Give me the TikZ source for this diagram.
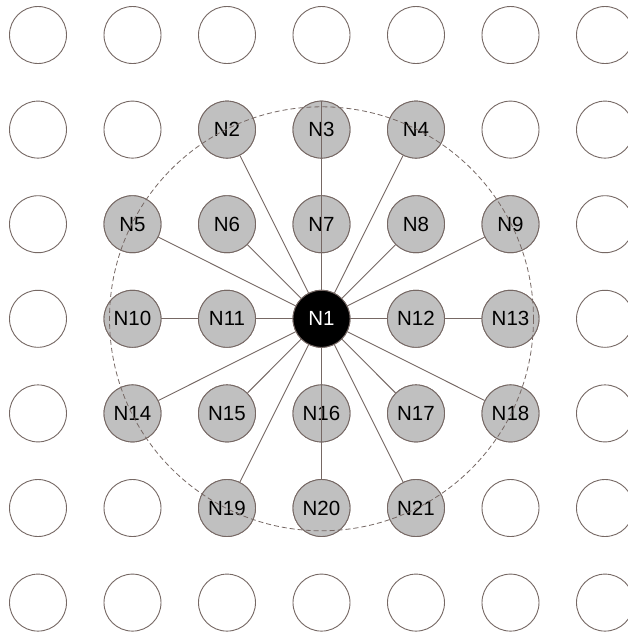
\documentclass[tikz,border=0pt]{standalone}
\usepackage{fontspec}
\setmainfont{Liberation Sans}
\definecolor{linec}{RGB}{118,104,100}
\definecolor{greyfill}{RGB}{192,192,192}
\begin{document}
\begin{tikzpicture}[x=1pt,y=-1pt,
  cell/.style={circle,draw=linec,line width=0.9pt,fill=white,minimum size=57pt,inner sep=0pt},
  greynode/.style={cell,fill=greyfill,font=\fontsize{20.5}{20.5}\selectfont},
  hubnode/.style={cell,fill=black,text=white,font=\fontsize{20.5}{20.5}\selectfont},
  edge/.style={draw=linec,line width=0.9pt},
  ring/.style={draw=linec,line width=0.8pt,dash pattern=on 5pt off 3pt}]
\useasboundingbox (0,0) rectangle (628,633);
\clip (0,0) rectangle (628,633);
\fill[white] (0,0) rectangle (628,633);
\foreach \i in {0,...,6} {
  \foreach \j in {0,...,6} {
    \node[cell] (g-\i-\j) at ({38+94.5*\i},{35+94.6*\j}) {};
  }
}
\draw[edge] (g-3-3) -- (g-1-3);
\draw[edge] (g-3-3) -- (g-5-3);
\node[greynode] (N2) at (g-2-1) {N2};
\node[greynode] (N3) at (g-3-1) {N3};
\node[greynode] (N4) at (g-4-1) {N4};
\node[greynode] (N5) at (g-1-2) {N5};
\node[greynode] (N6) at (g-2-2) {N6};
\node[greynode] (N7) at (g-3-2) {N7};
\node[greynode] (N8) at (g-4-2) {N8};
\node[greynode] (N9) at (g-5-2) {N9};
\node[greynode] (N10) at (g-1-3) {N10};
\node[greynode] (N11) at (g-2-3) {N11};
\node[greynode] (N12) at (g-4-3) {N12};
\node[greynode] (N13) at (g-5-3) {N13};
\node[greynode] (N14) at (g-1-4) {N14};
\node[greynode] (N15) at (g-2-4) {N15};
\node[greynode] (N16) at (g-3-4) {N16};
\node[greynode] (N17) at (g-4-4) {N17};
\node[greynode] (N18) at (g-5-4) {N18};
\node[greynode] (N19) at (g-2-5) {N19};
\node[greynode] (N20) at (g-3-5) {N20};
\node[greynode] (N21) at (g-4-5) {N21};
\node[hubnode] (N1) at (g-3-3) {N1};
\foreach \n in {N2,N4,N5,N6,N8,N9,N14,N15,N17,N18,N19,N21,N20} {
  \draw[edge] (N1) -- (\n);
}
\draw[edge] (N1) -- (N3.north);
\draw[ring] (N1.center) circle[radius=212];
\end{tikzpicture}
\end{document}
